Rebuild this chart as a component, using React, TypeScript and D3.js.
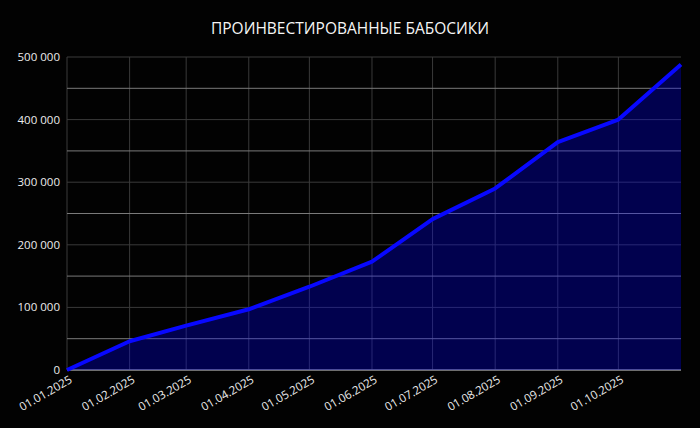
import React from "react";
import * as d3 from "d3";

const dates = ["2025-01-01","2025-02-01","2025-03-01","2025-04-01","2025-05-01","2025-06-01","2025-07-01","2025-08-01","2025-09-01","2025-10-01","2025-11-01"];
const values = [0, 46000, 71000, 97000, 133000, 173000, 241000, 290000, 364000, 400000, 488000];
const tickDates = ["2025-01-01","2025-02-01","2025-03-01","2025-04-01","2025-05-01","2025-06-01","2025-07-01","2025-08-01","2025-09-01","2025-10-01"];
const yTicks = [0, 100000, 200000, 300000, 400000, 500000];
const yMinor = [50000, 150000, 250000, 350000, 450000];
const title = "ПРОИНВЕСТИРОВАННЫЕ БАБОСИКИ";

const W = 700, H = 428;
const M = { left: 67, right: 19, top: 57, bottom: 58 };

export default function App() {
  const parse = d3.utcParse("%Y-%m-%d");
  const fmtDate = d3.utcFormat("%d.%m.%Y");
  const x = d3.scaleUtc().domain([parse(dates[0])!, parse(dates[dates.length - 1])!]).range([M.left, W - M.right]);
  const y = d3.scaleLinear().domain([0, 500000]).range([H - M.bottom, M.top]);
  const pts = dates.map((d, i) => ({ d: parse(d)!, v: values[i] }));
  const line = d3.line<any>().x(p => x(p.d)).y(p => y(p.v));
  const area = d3.area<any>().x(p => x(p.d)).y0(y(0)).y1(p => y(p.v));
  const fmtNum = (v: number) => d3.format(",")(v).replace(/,/g, " ");
  const font = "'Open Sans', sans-serif";
  return (
    <svg width={W} height={H} style={{ position: "absolute", left: 0, top: 0, background: "#020202" }}>
      <rect x={0} y={0} width={W} height={H} fill="#020202" />
      <text x={W / 2} y={34} textAnchor="middle" fill="#f5f5f5" fontSize={15.5} fontFamily={font}>{title}</text>
      {tickDates.map(t => (
        <line key={t} x1={x(parse(t)!)} x2={x(parse(t)!)} y1={y(500000)} y2={y(0)} stroke="#3a3a3a" strokeWidth={1} />
      ))}
      {yTicks.map(t => (
        <line key={t} x1={M.left} x2={W - M.right} y1={y(t)} y2={y(t)} stroke="#3a3a3a" strokeWidth={1} />
      ))}
      {yMinor.map(t => (
        <line key={t} x1={M.left} x2={W - M.right} y1={y(t)} y2={y(t)} stroke="#7a7a7a" strokeWidth={1} />
      ))}
      <line x1={M.left} x2={W - M.right} y1={y(0)} y2={y(0)} stroke="#8a8a8a" strokeWidth={1.5} />
      <path d={area(pts)!} fill="#0000ff" fillOpacity={0.3} />
      <path d={line(pts)!} fill="none" stroke="#0808ff" strokeWidth={4} strokeLinejoin="round" />
      {yTicks.map(t => (
        <text key={t} x={M.left - 7} y={y(t)} dy="0.35em" textAnchor="end" fill="#ececec" fontSize={11.5} fontFamily={font}>{fmtNum(t)}</text>
      ))}
      {tickDates.map(t => {
        const px = x(parse(t)!);
        return (
          <text key={t} transform={`translate(${px + 6},${y(0) + 12}) rotate(-30)`} textAnchor="end" fill="#ececec" fontSize={11.5} fontFamily={font}>{fmtDate(parse(t)!)}</text>
        );
      })}
    </svg>
  );
}
